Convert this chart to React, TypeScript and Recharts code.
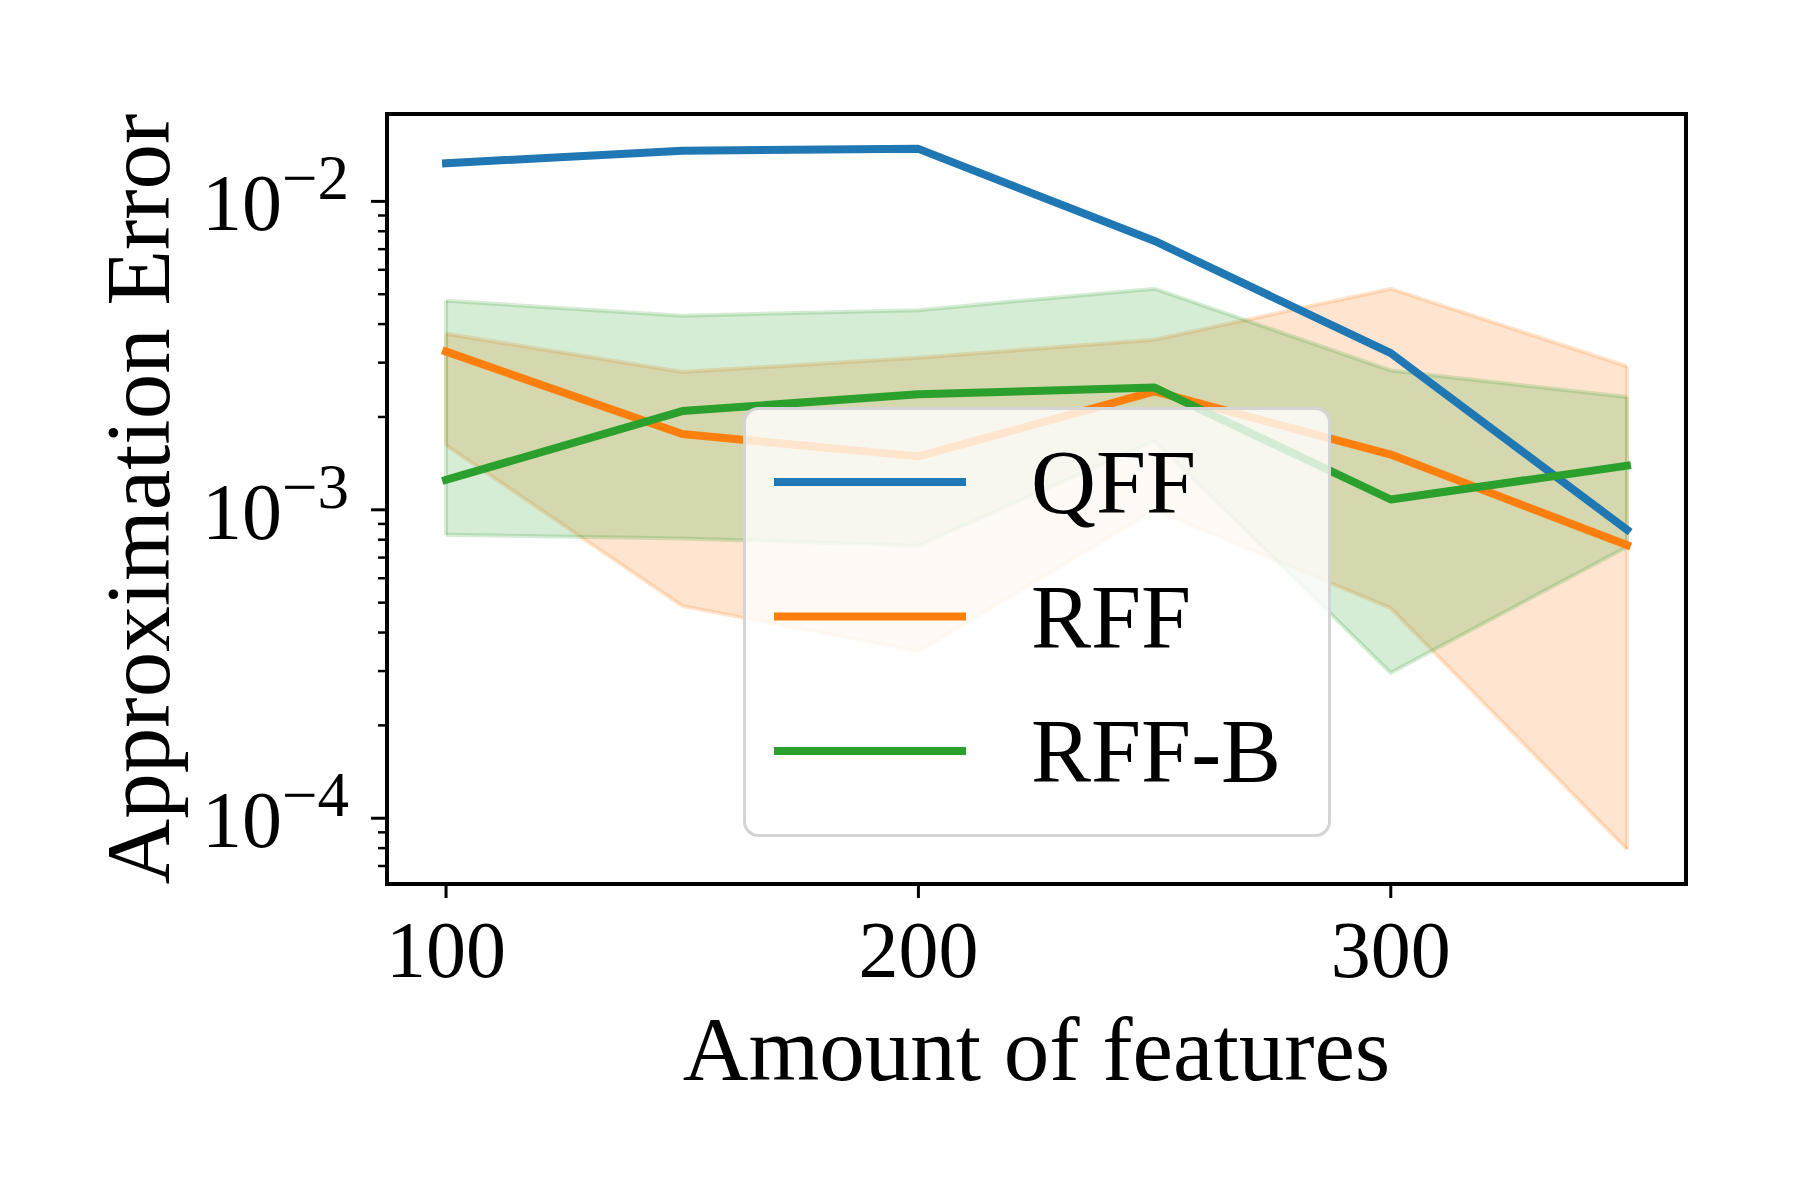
import {
  ComposedChart,
  Line,
  Area,
  XAxis,
  YAxis,
  ReferenceArea,
  ReferenceLine,
  Legend,
} from "recharts";

// amount of features on the x axis
const FEATURES = [100, 150, 200, 250, 300, 350];

// mean approximation error per method
const QFF = [0.0133, 0.0146, 0.0148, 0.00744, 0.00322, 0.000862];
const RFF = [0.00326, 0.00176, 0.00149, 0.00242, 0.00151, 0.000768];
const RFFB = [0.00125, 0.00209, 0.00237, 0.00249, 0.00108, 0.00139];

// shaded spread around RFF and RFF-B
const RFF_LOW = [0.00162, 0.000488, 0.000347, 0.001, 0.00048, 0.0000794];
const RFF_HIGH = [0.00372, 0.0028, 0.00311, 0.00356, 0.00521, 0.00292];
const RFFB_LOW = [0.00083, 0.000807, 0.000765, 0.00167, 0.000296, 0.000758];
const RFFB_HIGH = [0.00476, 0.00426, 0.00444, 0.00521, 0.00283, 0.00232];

const X_TICKS = [100, 200, 300];
const X_DOMAIN = [87.5, 362.5];
const Y_DOMAIN = [6.12e-5, 0.0192];
const Y_MAJOR = [1e-4, 1e-3, 1e-2];
const Y_MAJOR_LABELS = ["−4", "−3", "−2"];
const Y_MINOR = [
  7e-5, 8e-5, 9e-5,
  2e-4, 3e-4, 4e-4, 5e-4, 6e-4, 7e-4, 8e-4, 9e-4,
  2e-3, 3e-3, 4e-3, 5e-3, 6e-3, 7e-3, 8e-3, 9e-3,
];

const BLUE = "#1f77b4";
const ORANGE = "#ff7f0e";
const GREEN = "#2ca02c";

const data = FEATURES.map((f, i) => ({
  features: f,
  qff: QFF[i],
  rff: RFF[i],
  rffb: RFFB[i],
  rffBand: [RFF_LOW[i], RFF_HIGH[i]],
  rffbBand: [RFFB_LOW[i], RFFB_HIGH[i]],
}));

// closing edges of the two shaded polygons (first and last feature count)
const last = FEATURES.length - 1;
const bandEdges = [
  { x: FEATURES[0], lo: RFF_LOW[0], hi: RFF_HIGH[0], color: ORANGE },
  { x: FEATURES[last], lo: RFF_LOW[last], hi: RFF_HIGH[last], color: ORANGE },
  { x: FEATURES[0], lo: RFFB_LOW[0], hi: RFFB_HIGH[0], color: GREEN },
  { x: FEATURES[last], lo: RFFB_LOW[last], hi: RFFB_HIGH[last], color: GREEN },
];

function XTick({ x, y, payload }: any) {
  return (
    <text x={x} y={y + 79} textAnchor="middle" fontSize={80} fill="#000">
      {payload.value}
    </text>
  );
}

function YTick({ x, y, payload }: any) {
  const idx = Y_MAJOR.findIndex((m) => Math.abs(m - payload.value) / m < 1e-6);
  if (idx < 0) {
    return <line x1={x - 9} x2={x} y1={y} y2={y} stroke="#000" strokeWidth={2.5} />;
  }
  return (
    <g>
      <line x1={x - 16} x2={x} y1={y} y2={y} stroke="#000" strokeWidth={3} />
      <text x={x - 38} y={y + 29} textAnchor="end" fontSize={80} fill="#000">
        10
        <tspan dy={-31} fontSize={63}>
          {Y_MAJOR_LABELS[idx]}
        </tspan>
      </text>
    </g>
  );
}

function LegendBox({ payload }: any) {
  const items = (payload || []).filter((p: any) => p.type !== "none");
  return (
    <svg width={588} height={430} style={{ display: "block" }}>
      <rect
        x={1.5}
        y={1.5}
        width={585}
        height={427}
        rx={14}
        fill="#fff"
        fillOpacity={0.8}
        stroke="#d4d4d4"
        strokeWidth={3}
      />
      {items.map((it: any, i: number) => (
        <g key={it.value}>
          <line
            x1={31}
            x2={223}
            y1={75 + i * 134.5}
            y2={75 + i * 134.5}
            stroke={it.color}
            strokeWidth={8}
          />
          <text x={288} y={106 + i * 134.5} fontSize={90} fill="#000">
            {it.value}
          </text>
        </g>
      ))}
    </svg>
  );
}

export default function App() {
  return (
    <div
      style={{
        position: "absolute",
        left: 0,
        top: 0,
        width: 1800,
        height: 1200,
        background: "#fff",
        fontFamily: '"Liberation Serif", serif',
      }}
    >
      <ComposedChart
        width={1800}
        height={1200}
        data={data}
        margin={{ top: 114, right: 114, bottom: 0, left: 0 }}
      >
        <XAxis
          dataKey="features"
          type="number"
          domain={X_DOMAIN}
          ticks={X_TICKS}
          interval={0}
          allowDataOverflow
          height={316}
          axisLine={false}
          tickSize={14}
          tickMargin={0}
          tickLine={{ stroke: "#000", strokeWidth: 3 }}
          tick={<XTick />}
          label={{
            content: ({ viewBox }: any) => (
              <text
                x={viewBox.x + viewBox.width / 2}
                y={viewBox.y + 196}
                textAnchor="middle"
                fontSize={91}
                fill="#000"
              >
                Amount of features
              </text>
            ),
          }}
        />
        <YAxis
          type="number"
          scale="log"
          domain={Y_DOMAIN}
          allowDataOverflow
          ticks={[...Y_MAJOR, ...Y_MINOR]}
          interval={0}
          width={387}
          axisLine={false}
          tickLine={false}
          tickSize={0}
          tickMargin={0}
          tick={<YTick />}
          label={{
            content: ({ viewBox }: any) => {
              const cx = viewBox.x + viewBox.width - 218;
              const cy = viewBox.y + viewBox.height / 2;
              return (
                <text
                  x={cx}
                  y={cy}
                  transform={`rotate(-90, ${cx}, ${cy})`}
                  textAnchor="middle"
                  fontSize={91}
                  fill="#000"
                >
                  Approximation Error
                </text>
              );
            },
          }}
        />
        <Area
          type="linear"
          dataKey="rffBand"
          fill={ORANGE}
          fillOpacity={0.2}
          stroke={ORANGE}
          strokeOpacity={0.2}
          strokeWidth={4}
          legendType="none"
          dot={false}
          activeDot={false}
          isAnimationActive={false}
        />
        <Area
          type="linear"
          dataKey="rffbBand"
          fill={GREEN}
          fillOpacity={0.2}
          stroke={GREEN}
          strokeOpacity={0.2}
          strokeWidth={4}
          legendType="none"
          dot={false}
          activeDot={false}
          isAnimationActive={false}
        />
        {bandEdges.map((e, i) => (
          <ReferenceLine
            key={i}
            segment={[
              { x: e.x, y: e.lo },
              { x: e.x, y: e.hi },
            ]}
            stroke={e.color}
            strokeOpacity={0.2}
            strokeWidth={4}
          />
        ))}
        <Line
          type="linear"
          dataKey="qff"
          name="QFF"
          stroke={BLUE}
          strokeWidth={8}
          strokeLinecap="square"
          strokeLinejoin="round"
          dot={false}
          activeDot={false}
          isAnimationActive={false}
        />
        <Line
          type="linear"
          dataKey="rff"
          name="RFF"
          stroke={ORANGE}
          strokeWidth={8}
          strokeLinecap="square"
          strokeLinejoin="round"
          dot={false}
          activeDot={false}
          isAnimationActive={false}
        />
        <Line
          type="linear"
          dataKey="rffb"
          name="RFF-B"
          stroke={GREEN}
          strokeWidth={8}
          strokeLinecap="square"
          strokeLinejoin="round"
          dot={false}
          activeDot={false}
          isAnimationActive={false}
        />
        <ReferenceArea
          x1={X_DOMAIN[0]}
          x2={X_DOMAIN[1]}
          y1={Y_DOMAIN[0]}
          y2={Y_DOMAIN[1]}
          fill="none"
          stroke="#000"
          strokeWidth={4}
          ifOverflow="visible"
        />
        <Legend
          layout="horizontal"
          align="center"
          verticalAlign="middle"
          content={<LegendBox />}
          wrapperStyle={{ left: 743, top: 407, width: 588, height: 430 }}
        />
      </ComposedChart>
    </div>
  );
}
